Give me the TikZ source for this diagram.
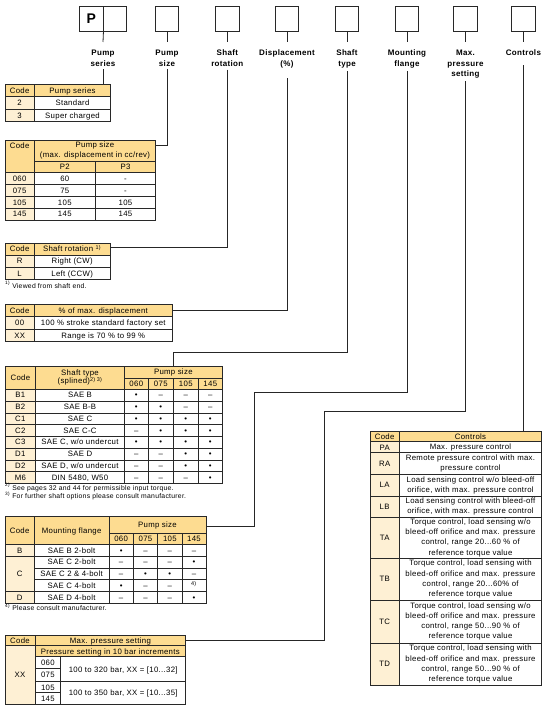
\documentclass[tikz,border=0pt]{standalone}
\usepackage{fontspec}
\setmainfont{Liberation Sans}[LetterSpace=4]
\definecolor{hdrc}{RGB}{253,220,145}
\definecolor{codec}{RGB}{254,240,212}
\definecolor{linec}{RGB}{40,40,40}
\newcommand\tabf{\fontsize{7.8}{9.4}\selectfont}
\newcommand\ctlf{\fontsize{7.8}{10.2}\selectfont}
\newcommand\lblf{\fontsize{8}{10.3}\selectfont\bfseries}
\newcommand\fnf{\fontsize{6.8}{8}\selectfont}
\newcommand\cb[7]{\path[#5] (#1,#2) rectangle (#3,#4); \node[txt] (#6) at ({(#1+#3)/2},{(#2+#4)/2+2.8}) {#7};}
\newcommand\mc[7]{\path[#5] (#1,#2) rectangle (#3,#4); \node[mtxt] (#6) at ({(#1+#3)/2},{(#2+#4)/2}) {#7};}
\begin{document}
\begin{tikzpicture}[x=1pt,y=-1pt,
  hd/.style={fill=hdrc,draw=linec,line width=0.6pt},
  cd/.style={fill=codec,draw=linec,line width=0.6pt},
  wt/.style={fill=white,draw=linec,line width=0.6pt},
  txt/.style={font=\tabf,inner sep=0pt,anchor=base},
  mtxt/.style={font=\tabf,inner sep=0pt,anchor=center,align=center},
  ctxt/.style={font=\ctlf,inner sep=0pt,anchor=center,align=center},
  fn/.style={font=\fnf,inner sep=0pt,anchor=base west},
  lbl/.style={font=\lblf,inner sep=0pt,anchor=north,align=center},
  codebox/.style={draw=linec,line width=0.8pt,minimum width=23.6pt,minimum height=25.2pt,inner sep=0pt},
  conn/.style={draw=black!85,line width=0.8pt}]
\fill[white] (0,0) rectangle (549,711);
\useasboundingbox (0,0) rectangle (549,711);

% ---- code boxes and labels
\node[codebox] (bP) at (91.25,18.9) {\fontsize{14}{14}\selectfont\bfseries P};
\node[codebox] (bP2) at (114.85,18.9) {};
\node[codebox] (b2) at (167,18.9) {};
\node[codebox] (b3) at (227.3,18.9) {};
\node[codebox] (b4) at (287,18.9) {};
\node[codebox] (b5) at (347,18.9) {};
\node[codebox] (b6) at (407,18.9) {};
\node[codebox] (b7) at (465.5,18.9) {};
\node[codebox] (b8) at (523.4,18.9) {};

\node[lbl] (l1) at (103,50) {Pump\\series};
\node[lbl] (l2) at (167,50) {Pump\\size};
\node[lbl] (l3) at (227.3,50) {Shaft\\rotation};
\node[lbl] (l4) at (287,50) {Displacement\\(\%)};
\node[lbl] (l5) at (347,50) {Shaft\\type};
\node[lbl] (l6) at (407,50) {Mounting\\flange};
\node[lbl] (l7) at (465.5,50) {Max.\\pressure\\setting};
\node[lbl] (l8) at (523.4,50) {Controls};

% ---- connector end points
\coordinate (c1) at (103,84);
\coordinate (c2) at (155.7,145.3);
\coordinate (c3) at (110,247);
\coordinate (c4) at (172.3,310.7);
\coordinate (k5) at (173.3,352.3);
\coordinate (c5) at (173.3,366);
\coordinate (k6) at (254.7,392.3);
\coordinate (c6) at (206,526.7);
\coordinate (k7) at (324,411);
\coordinate (c7) at (185.7,640);
\coordinate (c8) at (523.4,431.7);

\draw[conn] (bP.south east) -- ([yshift=8pt]l1.north);
\draw[conn] (b2.south) -- ([yshift=8pt]l2.north);
\draw[conn] (b3.south) -- ([yshift=8pt]l3.north);
\draw[conn] (b4.south) -- ([yshift=8pt]l4.north);
\draw[conn] (b5.south) -- ([yshift=8pt]l5.north);
\draw[conn] (b6.south) -- ([yshift=8pt]l6.north);
\draw[conn] (b7.south) -- ([yshift=8pt]l7.north);
\draw[conn] (b8.south) -- ([yshift=8pt]l8.north);

\draw[conn] ([yshift=-3pt]l1.south) -- (c1);
\draw[conn] ([yshift=-3pt]l2.south) |- (c2);
\draw[conn] ([yshift=-3pt]l3.south) |- (c3);
\draw[conn] ([yshift=-10pt]l4.south) |- (c4);
\draw[conn] ([yshift=-3pt]l5.south) |- (k5) -- (c5);
\draw[conn] ([yshift=-3pt]l6.south) |- (k6) |- (c6);
\draw[conn] ([yshift=-3pt]l7.south) |- (k7) |- (c7);
\draw[conn] ([yshift=-9pt]l8.south) -- (c8);

% ---- Pump series
\cb{5}{84}{34.3}{96.7}{hd}{t1h1}{Code}
\cb{34.3}{84}{110.7}{96.7}{hd}{t1h2}{Pump series}
\cb{5}{96.7}{34.3}{109}{cd}{t1a1}{2}
\cb{34.3}{96.7}{110.7}{109}{wt}{t1a2}{Standard}
\cb{5}{109}{34.3}{121.7}{cd}{t1b1}{3}
\cb{34.3}{109}{110.7}{121.7}{wt}{t1b2}{Super charged}

% ---- Pump size
\path[hd] (5,140) rectangle (34.3,172.7);
\node[txt] (t2h1) at (19.65,148.3) {Code};
\mc{34.3}{140}{155.7}{161}{hd}{t2h2}{Pump size\\(max. displacement in cc/rev)}
\cb{34.3}{161}{95.3}{172.7}{hd}{t2h3}{P2}
\cb{95.3}{161}{155.7}{172.7}{hd}{t2h4}{P3}
\foreach \ya/\yb/\qa/\qb/\qc [count=\k] in {172.7/184.3/060/60/-, 184.3/196.3/075/75/-, 196.3/208.3/105/105/105, 208.3/220/145/145/145}{
  \cb{5}{\ya}{34.3}{\yb}{cd}{t2a\k}{\qa}
  \cb{34.3}{\ya}{95.3}{\yb}{wt}{t2b\k}{\qb}
  \cb{95.3}{\ya}{155.7}{\yb}{wt}{t2c\k}{\qc}
}

% ---- Shaft rotation
\cb{5}{243.3}{34.3}{255}{hd}{t3h1}{Code}
\cb{34.3}{243.3}{110}{255}{hd}{t3h2}{Shaft rotation \textsuperscript{1)}}
\cb{5}{255}{34.3}{267.3}{cd}{t3a1}{R}
\cb{34.3}{255}{110}{267.3}{wt}{t3a2}{Right (CW)}
\cb{5}{267.3}{34.3}{279.3}{cd}{t3b1}{L}
\cb{34.3}{267.3}{110}{279.3}{wt}{t3b2}{Left (CCW)}
\node[fn] (t3fn) at (5,288) {\textsuperscript{1)} Viewed from shaft end.};

% ---- Displacement
\cb{5}{304.3}{34.3}{316.7}{hd}{t4h1}{Code}
\cb{34.3}{304.3}{172.3}{316.7}{hd}{t4h2}{\% of max. displacement}
\cb{5}{316.7}{34.3}{329}{cd}{t4a1}{00}
\cb{34.3}{316.7}{172.3}{329}{wt}{t4a2}{100 \% stroke standard factory set}
\cb{5}{329}{34.3}{341.7}{cd}{t4b1}{XX}
\cb{34.3}{329}{172.3}{341.7}{wt}{t4b2}{Range is 70 \% to 99 \%}

% ---- Shaft type
\cb{5}{366}{35.7}{389.3}{hd}{t5h1}{Code}
\mc{35.7}{366}{124.3}{389.3}{hd}{t5h2}{Shaft type\\[-0.8pt](splined)\textsuperscript{2) 3)}}
\cb{124.3}{366}{222.3}{378.3}{hd}{t5h3}{Pump size}
\cb{124.3}{378.3}{148.3}{389.3}{hd}{t5s1}{060}
\cb{148.3}{378.3}{173.3}{389.3}{hd}{t5s2}{075}
\cb{173.3}{378.3}{198.3}{389.3}{hd}{t5s3}{105}
\cb{198.3}{378.3}{222.3}{389.3}{hd}{t5s4}{145}
\foreach \qn/\qs/\qa/\qb/\qc/\qd [count=\k from 0] in {B1/SAE B/•/–/–/–, B2/SAE B-B/•/•/–/–, C1/SAE C/•/•/•/•, C2/SAE C-C/–/•/•/•, C3/{SAE C, w/o undercut}/•/•/•/•, D1/SAE D/–/–/•/•, D2/{SAE D, w/o undercut}/–/–/•/•, M6/{DIN 5480, W50}/–/–/–/•}{
  \pgfmathsetmacro\ya{389.3+\k*11.75}
  \pgfmathsetmacro\yb{\ya+11.75}
  \cb{5}{\ya}{35.7}{\yb}{cd}{t5n\k}{\qn}
  \cb{35.7}{\ya}{124.3}{\yb}{wt}{t5t\k}{\qs}
  \cb{124.3}{\ya}{148.3}{\yb}{wt}{t5p\k}{\qa}
  \cb{148.3}{\ya}{173.3}{\yb}{wt}{t5q\k}{\qb}
  \cb{173.3}{\ya}{198.3}{\yb}{wt}{t5r\k}{\qc}
  \cb{198.3}{\ya}{222.3}{\yb}{wt}{t5s\k}{\qd}
}
\node[fn] (t5fa) at (5,490) {\textsuperscript{2)} See pages 32 and 44 for permissible input torque.};
\node[fn] (t5fb) at (5,498.8) {\textsuperscript{3)} For further shaft options please consult manufacturer.};

% ---- Mounting flange
\cb{5}{516.7}{34.3}{544.3}{hd}{t6h1}{Code}
\cb{34.3}{516.7}{109}{544.3}{hd}{t6h2}{Mounting flange}
\cb{109}{516.7}{206}{533.3}{hd}{t6h3}{Pump size}
\cb{109}{533.3}{133.3}{544.3}{hd}{t6s1}{060}
\cb{133.3}{533.3}{157.7}{544.3}{hd}{t6s2}{075}
\cb{157.7}{533.3}{182}{544.3}{hd}{t6s3}{105}
\cb{182}{533.3}{206}{544.3}{hd}{t6s4}{145}
\foreach \qs/\qa/\qb/\qc/\qd [count=\k from 0] in {SAE B 2-bolt/•/–/–/–, SAE C 2-bolt/–/–/–/•, {SAE C 2 \& 4-bolt}/–/•/•/–, SAE C 4-bolt/•/–/–/{\textsuperscript{4)}}, SAE D 4-bolt/–/–/–/•}{
  \pgfmathsetmacro\ya{544.3+\k*11.8}
  \pgfmathsetmacro\yb{\ya+11.8}
  \cb{34.3}{\ya}{109}{\yb}{wt}{t6t\k}{\qs}
  \cb{109}{\ya}{133.3}{\yb}{wt}{t6p\k}{\qa}
  \cb{133.3}{\ya}{157.7}{\yb}{wt}{t6q\k}{\qb}
  \cb{157.7}{\ya}{182}{\yb}{wt}{t6r\k}{\qc}
  \cb{182}{\ya}{206}{\yb}{wt}{t6s\k}{\qd}
}
\cb{5}{544.3}{34.3}{556.1}{cd}{t6cB}{B}
\cb{5}{556.1}{34.3}{591.5}{cd}{t6cC}{C}
\cb{5}{591.5}{34.3}{603.3}{cd}{t6cD}{D}
\node[fn] (t6fn) at (5,610.5) {\textsuperscript{4)} Please consult manufacturer.};

% ---- Max. pressure setting
\cb{5}{635}{35}{645.7}{hd}{t7h1}{Code}
\cb{35}{635}{185.7}{645.7}{hd}{t7h2}{Max. pressure setting}
\cb{5}{645.7}{35}{704}{cd}{t7x}{XX}
\cb{35}{645.7}{185.7}{656.7}{hd}{t7h3}{Pressure setting in 10 bar increments}
\cb{35}{656.7}{60.7}{668.3}{wt}{t7s1}{060}
\cb{35}{668.3}{60.7}{681.7}{wt}{t7s2}{075}
\cb{35}{681.7}{60.7}{692.7}{wt}{t7s3}{105}
\cb{35}{692.7}{60.7}{704}{wt}{t7s4}{145}
\cb{60.7}{656.7}{185.7}{681.7}{wt}{t7r1}{100 to 320 bar, XX = [10...32]}
\cb{60.7}{681.7}{185.7}{704}{wt}{t7r2}{100 to 350 bar, XX = [10...35]}

% ---- Controls
\cb{370}{431.7}{399.3}{441.7}{hd}{t8h1}{Code}
\cb{399.3}{431.7}{541.7}{441.7}{hd}{t8h2}{Controls}
\foreach \ya/\yb/\qn/\qt [count=\k] in {
 441.7/452.7/PA/{Max. pressure control},
 452.7/474.3/RA/{Remote pressure control with max.\\pressure control},
 474.3/496/LA/{Load sensing control w/o bleed-off\\orifice, with max. pressure control},
 496/517.3/LB/{Load sensing control with bleed-off\\orifice, with max. pressure control},
 517.3/558.3/TA/{Torque control, load sensing w/o\\bleed-off orifice and max. pressure\\control, range 20...60 \% of\\reference torque value},
 558.3/600/TB/{Torque control, load sensing with\\bleed-off orifice and max. pressure\\control, range 20...60\% of\\reference torque value},
 600/643.3/TC/{Torque control, load sensing w/o\\bleed-off orifice and max. pressure\\control, range 50...90 \% of\\reference torque value},
 643.3/685/TD/{Torque control, load sensing with\\bleed-off orifice and max. pressure\\control, range 50...90 \% of\\reference torque value}}{
  \cb{370}{\ya}{399.3}{\yb}{cd}{t8n\k}{\qn}
  \path[wt] (399.3,\ya) rectangle (541.7,\yb);
  \node[ctxt] (t8t\k) at ({(399.3+541.7)/2},{(\ya+\yb)/2}) {\qt};
}
\end{tikzpicture}
\end{document}
